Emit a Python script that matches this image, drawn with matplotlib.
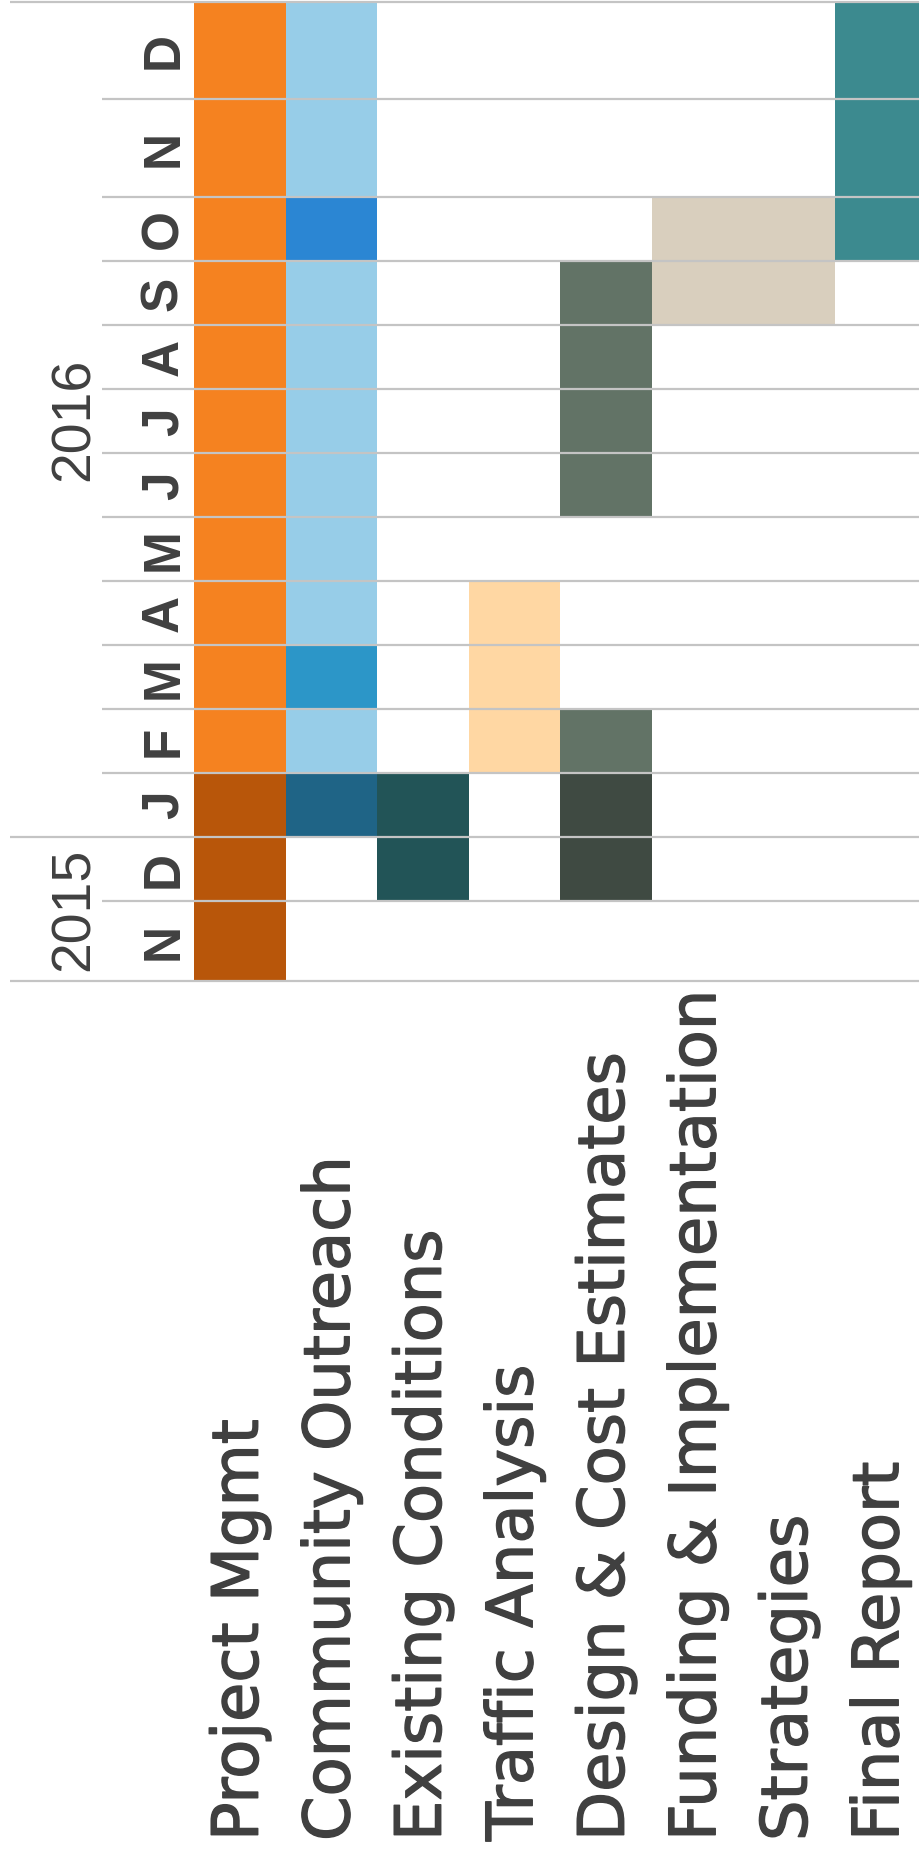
import numpy as np
import matplotlib
matplotlib.use("Agg")
import matplotlib.pyplot as plt
import matplotlib.patheffects as pe
from matplotlib.transforms import blended_transform_factory

# ---------------- data ----------------
months = ["N", "D", "J", "F", "M", "A", "M", "J", "J", "A", "S", "O", "N", "D"]
years = ["2015", "2016"]
year_first_month = [0, 2]          # index of first month of each year
year_last_month = [1, 13]

task_labels = ["Project Mgmt", "Community Outreach", "Existing Conditions",
               "Traffic Analysis", "Design & Cost Estimates",
               "Funding & Implementation", "Strategies", "Final Report"]

# task bars: label column where each task starts and how many columns it spans
task_col = [0, 1, 2, 3, 4, 5, 7]
task_span = [1, 1, 1, 1, 1, 2, 1]

# segments: task index, first month index, number of months, colour
seg_task = [0, 0, 1, 1, 1, 1, 1, 1, 2, 3, 4, 4, 4, 5, 6]
seg_start = [0, 3, 2, 3, 4, 5, 11, 12, 1, 3, 1, 3, 7, 10, 11]
seg_len = [3, 11, 1, 1, 1, 6, 1, 2, 2, 3, 2, 1, 4, 2, 3]
seg_color = ["#B8560A", "#F58220",
             "#1F6486", "#97CDE8", "#2C96C8", "#97CDE8", "#2B86D3", "#97CDE8",
             "#225457", "#FFD7A3",
             "#3F4A42", "#627366", "#627366",
             "#D9CFBE", "#3C8A8F"]

# ---------------- layout ----------------
W, H = 920, 1853
row_scale = [1.25, 1, 1, 1, 1, 1, 1, 1, 1, 1, 1, 1, 1.54, 1.52]
text_color = "#404040"
grid_color = "#C4C4C4"

fig = plt.figure(figsize=(W / 100, H / 100), dpi=100)
ax_left, ax_right = 194, 926
ax_top, ax_bottom = 1.7, 981
ax = fig.add_axes([ax_left / W, 1 - ax_bottom / H,
                   (ax_right - ax_left) / W, (ax_bottom - ax_top) / H])
ax.set_axis_off()

y_edges = np.concatenate([[0], np.cumsum(row_scale)])
ax.set_xlim(0, len(task_labels))
ax.set_ylim(0, y_edges[-1])

for t, s, n, c in zip(seg_task, seg_start, seg_len, seg_color):
    ax.bar(task_col[t], y_edges[s + n] - y_edges[s], width=task_span[t],
           bottom=y_edges[s], align="edge", color=c, linewidth=0, zorder=1)

# grid lines (horizontal, over bars)
tr_fy = blended_transform_factory(fig.transFigure, ax.transData)
year_edges = set([0, len(months)] + year_first_month)
for i, y in enumerate(y_edges):
    x0 = 10 / W if i in year_edges else 102 / W
    ax.hlines(y, x0, 1.0, transform=tr_fy, color=grid_color, linewidth=1.6,
              clip_on=False, zorder=3)

# month labels
for i, m in enumerate(months):
    yc = (y_edges[i] + y_edges[i + 1]) / 2
    ax.text(164 / W, yc, m, transform=tr_fy, rotation=90, ha="center", va="center",
            fontsize=37, fontweight="bold", family="Liberation Sans", color=text_color)

# year labels
for yr, a, b in zip(years, year_first_month, year_last_month):
    yc = (y_edges[a] + y_edges[b + 1]) / 2
    ax.text(75 / W, yc, yr, transform=tr_fy, rotation=90, ha="center", va="center",
            fontsize=40, family="Liberation Sans", color=text_color)

# task labels
tr_xf = blended_transform_factory(ax.transData, fig.transFigure)
for i, lab in enumerate(task_labels):
    ax.text(i + 0.5, 12 / H, lab, transform=tr_xf, rotation=90, ha="center", va="bottom",
            fontsize=46, family="DejaVu Sans", color=text_color,
            path_effects=[pe.withStroke(linewidth=1.0, foreground=text_color)])

fig.savefig("out.png", dpi=100)
